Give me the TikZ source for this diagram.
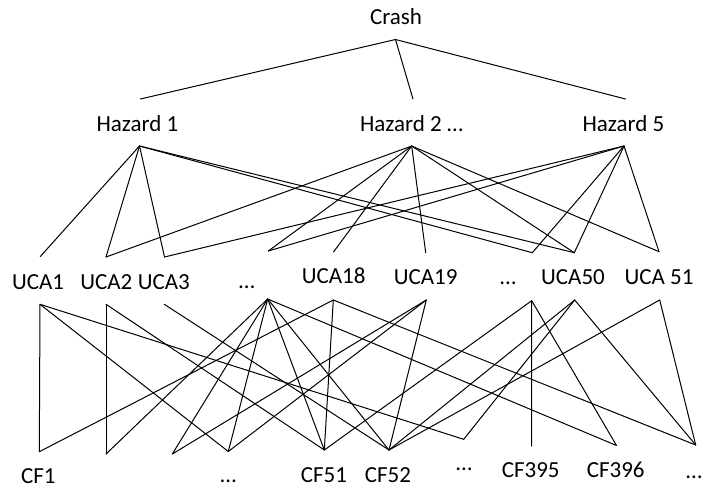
\documentclass[tikz,border=0pt]{standalone}
\usepackage{fontspec}
\setmainfont{Carlito}
\begin{document}
\begin{tikzpicture}[x=1pt,y=-1pt]
\tikzset{
  lbl/.style={inner sep=0pt, anchor=base, font=\fontsize{23}{27}\selectfont},
  wire/.style={line width=1pt, line cap=round, line join=round}
}
\useasboundingbox[fill=white] (0,0) rectangle (704,488);
% ---- labels ----
\node[lbl] (crash) at (396,24) {Crash};
\node[lbl] (hz1) at (137.5,131) {Hazard 1};
\node[lbl] (hz2) at (411.5,131) {Hazard 2 …};
\node[lbl] (hz5) at (623.5,131) {Hazard 5};
\node[lbl] (uca1) at (38,289) {UCA1};
\node[lbl] (uca2) at (106.3,289) {UCA2};
\node[lbl] (uca3) at (163.8,289) {UCA3};
\node[lbl] (ucad1) at (246.7,288) {…};
\node[lbl] (uca18) at (333.7,283.5) {UCA18};
\node[lbl] (uca19) at (425.7,284) {UCA19};
\node[lbl] (ucad2) at (508,284) {…};
\node[lbl] (uca50) at (573,284) {UCA50};
\node[lbl] (uca51) at (659,284) {UCA 51};
\node[lbl] (cf1) at (38.3,483) {CF1};
\node[lbl] (cfd1) at (228.3,482) {…};
\node[lbl] (cf51) at (324,482) {CF51};
\node[lbl] (cf52) at (388,482) {CF52};
\node[lbl] (cfd2) at (464,470) {…};
\node[lbl] (cf395) at (530.7,477) {CF395};
\node[lbl] (cf396) at (615.7,477) {CF396};
\node[lbl] (cfd3) at (694,478) {…};
% ---- connection points ----
\coordinate (C0) at (395.5,39.5);
\coordinate (T1) at (140.4,99);
\coordinate (T2) at (413,99);
\coordinate (T5) at (625.5,99);
\coordinate (H1) at (139.5,146);
\coordinate (H2) at (411.7,146);
\coordinate (H5) at (624,146);
\coordinate (U1) at (40.3,256.5);
\coordinate (U2) at (106,257);
\coordinate (U3) at (164.5,257);
\coordinate (U4) at (268.3,251);
\coordinate (U5) at (333.5,252);
\coordinate (U6) at (425.7,252.7);
\coordinate (U7) at (532.3,252.7);
\coordinate (U8) at (574.3,252.7);
\coordinate (U9) at (659,251.7);
\coordinate (A1) at (40,304.3);
\coordinate (A2) at (106,304.3);
\coordinate (A3) at (164.3,304.3);
\coordinate (A4) at (267.7,299);
\coordinate (A5) at (333.3,300);
\coordinate (A6) at (426.3,300);
\coordinate (A7) at (531.7,300.7);
\coordinate (A8) at (574.7,300);
\coordinate (A9) at (659.7,300);
\coordinate (B1) at (39.3,451.7);
\coordinate (B2) at (106,454);
\coordinate (B3) at (172.3,454);
\coordinate (B4) at (228.3,451.5);
\coordinate (B5) at (324.3,450);
\coordinate (B6) at (389,450);
\coordinate (B7) at (463.7,439.3);
\coordinate (B8) at (531.5,446);
\coordinate (B9) at (616.5,445.5);
\coordinate (B10) at (695.7,445);
% ---- connectors ----
\foreach \p/\q in {C0/T1,C0/T2,C0/T5,
  H1/U1,H1/U2,H1/U3,H1/U7,H1/U8,
  H2/U2,H2/U4,H2/U5,H2/U6,H2/U8,H2/U9,
  H5/U3,H5/U4,H5/U7,H5/U8,H5/U9,
  A1/B1,A1/B4,A1/B7,
  A2/B2,A2/B5,
  A3/B6,
  A4/B2,A4/B3,A4/B4,A4/B5,A4/B6,A4/B9,
  A5/B1,A5/B5,A5/B10,
  A6/B3,A6/B4,A6/B6,
  A7/B5,A7/B8,A7/B9,
  A8/B6,A8/B7,A8/B10,
  A9/B6,A9/B10}
  \draw[wire] (\p) -- (\q);
\end{tikzpicture}
\end{document}
